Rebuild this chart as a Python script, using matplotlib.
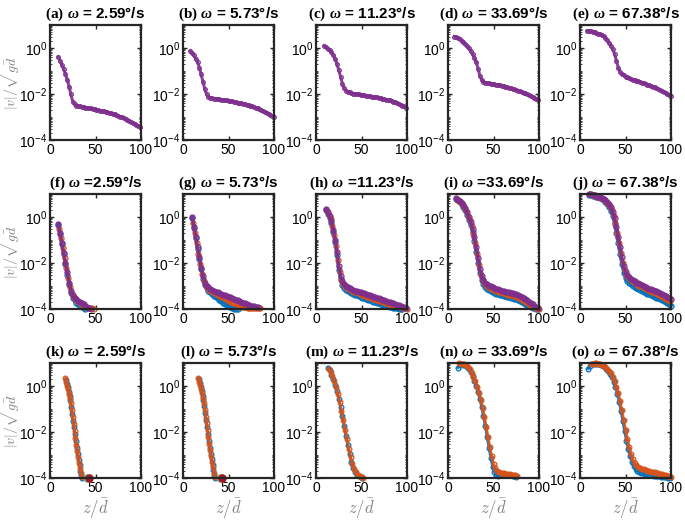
import numpy as np
import matplotlib.pyplot as plt
from matplotlib.ticker import LogLocator, NullFormatter

plt.rcParams['font.family'] = 'Liberation Sans'
plt.rcParams['mathtext.fontset'] = 'custom'
plt.rcParams['mathtext.rm'] = 'Liberation Serif'
plt.rcParams['mathtext.it'] = 'Liberation Serif:italic:bold'
plt.rcParams['mathtext.bf'] = 'Liberation Serif:bold'

BLUE = '#0072BD'
ORANGE = '#D95319'
YELLOW = '#EDB120'
PURPLE = '#7E2F8E'
GREEN = '#77AC30'
CYAN = '#4DBEEE'
RED = '#A2142F'

omegas = ['2.59', '5.73', '11.23', '33.69', '67.38']
tags = list('abcdefghijklmno')
eq_signs = [' = '] * 5 + [' =', ' = ', ' =', ' =', ' = '] + [' = '] * 5

# each series: first z, z step, log10(|v|/sqrt(g d))
# row 1 (single series)
a_pur = (9, 2, [-0.38, -0.55, -0.74, -0.92, -1.13, -1.38, -1.68, -2.02, -2.33, -2.45,
                -2.50, -2.52, -2.54, -2.56, -2.57, -2.59, -2.60, -2.62, -2.63, -2.65,
                -2.67, -2.68, -2.70, -2.72, -2.74, -2.76, -2.78, -2.80, -2.82, -2.84,
                -2.86, -2.89, -2.92, -2.95, -2.98, -3.01, -3.05, -3.08, -3.12, -3.16,
                -3.20, -3.24, -3.29, -3.34, -3.39, -3.44])
b_pur = (8, 2, [-0.12, -0.20, -0.32, -0.47, -0.62, -0.85, -1.15, -1.48, -1.80, -2.02,
                -2.12, -2.16, -2.18, -2.20, -2.21, -2.22, -2.23, -2.24, -2.26, -2.27,
                -2.28, -2.30, -2.31, -2.32, -2.34, -2.35, -2.37, -2.38, -2.40, -2.42,
                -2.44, -2.46, -2.49, -2.51, -2.54, -2.57, -2.60, -2.63, -2.66, -2.70,
                -2.73, -2.77, -2.81, -2.85, -2.90, -2.94, -2.99])
c_pur = (9, 2, [0.10, 0.04, -0.03, -0.10, -0.18, -0.30, -0.47, -0.70, -0.96, -1.25,
                -1.55, -1.76, -1.85, -1.90, -1.93, -1.96, -1.98, -2.00, -2.01, -2.02,
                -2.03, -2.05, -2.06, -2.07, -2.08, -2.10, -2.11, -2.13, -2.14, -2.15,
                -2.17, -2.18, -2.20, -2.22, -2.24, -2.26, -2.28, -2.30, -2.33, -2.36,
                -2.39, -2.42, -2.46, -2.50, -2.54, -2.60])
d_pur = (7, 2, [0.50, 0.46, 0.42, 0.37, 0.32, 0.25, 0.18, 0.10, -0.01, -0.14,
                -0.27, -0.42, -0.60, -0.90, -1.20, -1.38, -1.46, -1.50, -1.52, -1.54,
                -1.55, -1.57, -1.58, -1.60, -1.62, -1.63, -1.65, -1.67, -1.69, -1.71,
                -1.73, -1.75, -1.77, -1.80, -1.82, -1.85, -1.88, -1.91, -1.94, -1.97,
                -2.00, -2.04, -2.08, -2.12, -2.16, -2.20, -2.24])
e_pur = (8, 2, [0.75, 0.74, 0.72, 0.70, 0.68, 0.65, 0.62, 0.60, 0.58, 0.52,
                0.44, 0.34, 0.22, 0.08, -0.05, -0.27, -0.55, -0.85, -1.04, -1.13,
                -1.19, -1.24, -1.28, -1.31, -1.34, -1.37, -1.39, -1.42, -1.45, -1.47,
                -1.50, -1.53, -1.56, -1.59, -1.62, -1.65, -1.68, -1.71, -1.75, -1.78,
                -1.82, -1.86, -1.90, -1.94, -1.99, -2.03, -2.08])

# row 2 (blue, orange, purple)
f_blu = (9, 2, [-0.33, -0.75, -1.18, -1.62, -2.05, -2.50, -2.95, -3.30, -3.50, -3.62,
                -3.72, -3.80, -3.87, -3.93, -3.97, -4.00])
f_ora = (10, 2, [-0.50, -0.92, -1.35, -1.78, -2.20, -2.65, -3.05, -3.35, -3.48, -3.57,
                 -3.65, -3.71, -3.77, -3.82, -3.87, -3.91, -3.94, -3.96, -3.97, -3.98])
f_pur = (9, 2, [-0.29, -0.70, -1.12, -1.55, -1.98, -2.40, -2.85, -3.20, -3.40, -3.50,
                -3.58, -3.64, -3.70, -3.75, -3.80, -3.85, -3.90, -3.95, -3.99])
g_blu = (10, 2, [-0.05, -0.48, -0.93, -1.38, -1.83, -2.28, -2.68, -2.95, -3.10, -3.20,
                 -3.28, -3.35, -3.42, -3.48, -3.54, -3.60, -3.66, -3.72, -3.78, -3.84,
                 -3.89, -3.93, -3.96, -3.98, -3.99, -4.00])
g_ora = (11, 2, [-0.25, -0.70, -1.15, -1.60, -2.05, -2.48, -2.80, -3.00, -3.10, -3.17,
                 -3.23, -3.28, -3.32, -3.36, -3.40, -3.44, -3.48, -3.52, -3.56, -3.60,
                 -3.64, -3.68, -3.72, -3.76, -3.80, -3.84, -3.87, -3.90, -3.92, -3.93,
                 -3.94, -3.94, -3.95, -3.95, -3.95, -3.96, -3.96, -3.97])
g_pur = (10, 2, [0.00, -0.42, -0.87, -1.32, -1.76, -2.20, -2.58, -2.85, -2.98, -3.06,
                 -3.12, -3.17, -3.21, -3.25, -3.28, -3.31, -3.34, -3.37, -3.40, -3.43,
                 -3.46, -3.49, -3.53, -3.56, -3.60, -3.63, -3.67, -3.70, -3.73, -3.76,
                 -3.79, -3.82, -3.85, -3.87, -3.89, -3.90, -3.90])
h_blu = (11, 2, [0.30, 0.15, -0.03, -0.27, -0.65, -1.10, -1.65, -2.30, -2.70, -2.95,
                 -3.08, -3.16, -3.22, -3.27, -3.31, -3.35, -3.38, -3.41, -3.44, -3.47,
                 -3.50, -3.53, -3.56, -3.59, -3.62, -3.65, -3.68, -3.71, -3.73, -3.76,
                 -3.79, -3.81, -3.84, -3.86, -3.88, -3.90, -3.92, -3.94, -3.96, -3.97,
                 -3.98, -3.99, -4.00])
h_ora = (12, 2, [0.25, 0.10, -0.10, -0.40, -0.80, -1.28, -1.85, -2.40, -2.72, -2.90,
                 -3.00, -3.07, -3.13, -3.18, -3.22, -3.25, -3.28, -3.31, -3.34, -3.37,
                 -3.40, -3.43, -3.46, -3.49, -3.52, -3.54, -3.57, -3.60, -3.62, -3.65,
                 -3.67, -3.70, -3.72, -3.75, -3.77, -3.80, -3.82, -3.84, -3.87, -3.89,
                 -3.91, -3.93, -3.95, -3.97, -3.98])
h_pur = (11, 2, [0.34, 0.20, 0.03, -0.18, -0.55, -0.98, -1.50, -2.15, -2.55, -2.80,
                 -2.93, -3.01, -3.06, -3.10, -3.14, -3.17, -3.20, -3.22, -3.25, -3.27,
                 -3.30, -3.32, -3.35, -3.38, -3.40, -3.43, -3.46, -3.49, -3.52, -3.54,
                 -3.57, -3.60, -3.62, -3.65, -3.68, -3.70, -3.73, -3.75, -3.78, -3.81,
                 -3.84, -3.87, -3.90, -3.93, -3.96])
i_blu = (9, 2, [0.78, 0.72, 0.64, 0.55, 0.45, 0.30, 0.10, -0.12, -0.36, -0.65,
                -1.05, -1.50, -2.00, -2.45, -2.75, -2.93, -3.05, -3.13, -3.19, -3.23,
                -3.27, -3.30, -3.33, -3.36, -3.38, -3.41, -3.43, -3.45, -3.47, -3.49,
                -3.51, -3.53, -3.55, -3.58, -3.61, -3.65, -3.69, -3.74, -3.79, -3.84,
                -3.88, -3.92, -3.95, -3.97, -3.99, -4.00])
i_ora = (10, 2, [0.76, 0.70, 0.62, 0.53, 0.42, 0.26, 0.06, -0.15, -0.40, -0.72,
                 -1.12, -1.60, -2.10, -2.50, -2.72, -2.86, -2.96, -3.03, -3.08, -3.12,
                 -3.16, -3.19, -3.22, -3.25, -3.28, -3.30, -3.32, -3.35, -3.37, -3.39,
                 -3.41, -3.43, -3.45, -3.48, -3.51, -3.55, -3.60, -3.65, -3.70, -3.76,
                 -3.82, -3.87, -3.91, -3.95, -3.97, -3.99])
i_pur = (9, 2, [0.81, 0.75, 0.68, 0.60, 0.52, 0.38, 0.20, -0.01, -0.23, -0.50,
                -0.87, -1.30, -1.78, -2.25, -2.55, -2.73, -2.85, -2.93, -2.98, -3.02,
                -3.06, -3.09, -3.12, -3.15, -3.17, -3.20, -3.22, -3.24, -3.26, -3.28,
                -3.30, -3.32, -3.34, -3.36, -3.39, -3.42, -3.46, -3.51, -3.56, -3.62,
                -3.68, -3.74, -3.80, -3.85, -3.90, -3.94])
j_blu = (10, 2, [0.97, 0.95, 0.93, 0.91, 0.88, 0.85, 0.82, 0.78, 0.73, 0.66,
                 0.57, 0.45, 0.28, 0.04, -0.30, -0.70, -1.15, -1.60, -2.05, -2.42,
                 -2.64, -2.77, -2.86, -2.93, -2.99, -3.04, -3.09, -3.13, -3.17, -3.21,
                 -3.25, -3.29, -3.33, -3.36, -3.40, -3.43, -3.47, -3.50, -3.54, -3.58,
                 -3.62, -3.66, -3.70, -3.75, -3.80, -3.85])
j_ora = (11, 2, [0.98, 0.96, 0.94, 0.92, 0.89, 0.86, 0.83, 0.79, 0.74, 0.67,
                 0.58, 0.46, 0.30, 0.06, -0.28, -0.68, -1.12, -1.58, -2.00, -2.32,
                 -2.52, -2.63, -2.71, -2.78, -2.84, -2.89, -2.94, -2.98, -3.02, -3.06,
                 -3.10, -3.14, -3.17, -3.21, -3.24, -3.28, -3.31, -3.35, -3.39, -3.43,
                 -3.47, -3.51, -3.56, -3.61, -3.66])
j_pur = (10, 2, [1.00, 0.98, 0.96, 0.94, 0.92, 0.89, 0.86, 0.83, 0.79, 0.73,
                 0.65, 0.55, 0.42, 0.22, -0.05, -0.42, -0.85, -1.30, -1.75, -2.12,
                 -2.38, -2.53, -2.62, -2.69, -2.75, -2.80, -2.85, -2.89, -2.93, -2.97,
                 -3.01, -3.05, -3.08, -3.11, -3.14, -3.17, -3.20, -3.23, -3.27, -3.30,
                 -3.34, -3.38, -3.42, -3.47, -3.52, -3.57])

# row 3 (blue, orange)
k_blu = (17.5, 1, [0.28, 0.10, -0.06, -0.24, -0.43, -0.63, -0.90, -1.20, -1.50, -1.80,
                   -2.10, -2.40, -2.70, -2.95, -3.20, -3.45, -3.68, -3.88, -3.99])
k_ora = (17, 1, [0.33, 0.18, 0.02, -0.15, -0.33, -0.52, -0.75, -1.05, -1.35, -1.65,
                 -1.95, -2.25, -2.55, -2.82, -3.08, -3.33, -3.55, -3.78, -3.97])
l_blu = (17.5, 1, [0.30, 0.12, -0.05, -0.23, -0.42, -0.62, -0.88, -1.18, -1.48, -1.78,
                   -2.08, -2.38, -2.68, -2.94, -3.19, -3.44, -3.67, -3.87, -3.99])
l_ora = (17, 1, [0.34, 0.19, 0.03, -0.14, -0.32, -0.51, -0.74, -1.03, -1.33, -1.63,
                 -1.93, -2.23, -2.53, -2.80, -3.06, -3.31, -3.54, -3.77, -3.96])
m_blu = (13, 2, [0.80, 0.68, 0.50, 0.30, 0.06, -0.22, -0.55, -0.92, -1.32, -1.74,
                 -2.16, -2.58, -2.96, -3.30, -3.56, -3.74, -3.86, -3.93, -3.97, -3.99])
m_ora = (14, 2, [0.75, 0.60, 0.42, 0.20, -0.05, -0.35, -0.70, -1.08, -1.48, -1.90,
                 -2.32, -2.72, -3.08, -3.38, -3.60, -3.76, -3.86, -3.93, -3.97, -3.99])
n_blu = (11, 2, [0.80, 0.92, 0.95, 0.93, 0.90, 0.84, 0.74, 0.60, 0.43, 0.23,
                 0.00, -0.27, -0.57, -0.92, -1.32, -1.76, -2.22, -2.68, -3.12, -3.50,
                 -3.75, -3.88, -3.90, -3.88, -3.86, -3.85, -3.85, -3.86, -3.87, -3.88,
                 -3.90, -3.93, -3.96])
n_ora = (12, 2, [0.98, 0.97, 0.96, 0.94, 0.91, 0.83, 0.72, 0.57, 0.40, 0.20,
                 -0.03, -0.30, -0.60, -0.95, -1.35, -1.78, -2.22, -2.65, -3.05, -3.38,
                 -3.58, -3.68, -3.74, -3.77, -3.79, -3.80, -3.82, -3.83, -3.84, -3.86,
                 -3.87, -3.89, -3.90])
o_blu = (9, 2, [0.75, 0.88, 0.94, 0.96, 0.97, 0.96, 0.94, 0.91, 0.87, 0.82,
                0.75, 0.66, 0.54, 0.38, 0.18, -0.06, -0.34, -0.68, -1.08, -1.52,
                -1.96, -2.38, -2.75, -3.05, -3.30, -3.48, -3.60, -3.68, -3.73, -3.77,
                -3.80, -3.82, -3.84, -3.86, -3.87, -3.89, -3.90, -3.91, -3.92, -3.93,
                -3.94, -3.95, -3.96, -3.97, -3.98, -3.99])
o_ora = (12, 2, [0.95, 0.97, 0.98, 0.98, 0.97, 0.95, 0.92, 0.88, 0.83, 0.76,
                 0.67, 0.55, 0.39, 0.20, -0.03, -0.30, -0.65, -1.05, -1.48, -1.90,
                 -2.30, -2.65, -2.95, -3.18, -3.35, -3.45, -3.52, -3.57, -3.60, -3.63,
                 -3.66, -3.68, -3.70, -3.72, -3.74, -3.76, -3.78, -3.80, -3.82, -3.84,
                 -3.86, -3.88, -3.90, -3.92, -3.94])
# small pile of points sitting on the floor of (k) and (l)
pile_z = [41, 42, 42.5, 43]
pile_v = [-3.98, -3.98, -3.99, -3.99]
pile_c = [CYAN, GREEN, YELLOW, RED]

panels = [
    [(a_pur, PURPLE)], [(b_pur, PURPLE)], [(c_pur, PURPLE)], [(d_pur, PURPLE)], [(e_pur, PURPLE)],
    [(f_blu, BLUE), (f_ora, ORANGE), (f_pur, PURPLE)],
    [(g_blu, BLUE), (g_ora, ORANGE), (g_pur, PURPLE)],
    [(h_blu, BLUE), (h_ora, ORANGE), (h_pur, PURPLE)],
    [(i_blu, BLUE), (i_ora, ORANGE), (i_pur, PURPLE)],
    [(j_blu, BLUE), (j_ora, ORANGE), (j_pur, PURPLE)],
    [(k_blu, BLUE), (k_ora, ORANGE)],
    [(l_blu, BLUE), (l_ora, ORANGE)],
    [(m_blu, BLUE), (m_ora, ORANGE)],
    [(n_blu, BLUE), (n_ora, ORANGE)],
    [(o_blu, BLUE), (o_ora, ORANGE)],
]
marker_size = [2.6, 3.6, 3.4]
line_width = [2.2, 2.4, 2.0]

W, H = 685, 521
lefts = [50, 183, 316, 448, 580]
tops = [25, 194, 363]
aw, ah = 91, 115

fig = plt.figure(figsize=(W / 100, H / 100), dpi=100)

for i, series in enumerate(panels):
    r, c = divmod(i, 5)
    ax = fig.add_axes([lefts[c] / W, 1 - (tops[r] + ah) / H, aw / W, ah / H])
    for (z0, dz, lv), col in series:
        z = z0 + dz * np.arange(len(lv))
        v = 10.0 ** np.array(lv)
        ax.plot(z, v, '-', color=col, lw=line_width[r], alpha=0.9, clip_on=False)
        ax.plot(z, v, 'o', mfc='none', mec=col, ms=marker_size[r], mew=0.9, clip_on=False)
    if r == 2 and c < 2:
        for zz, vv, cc in zip(pile_z, pile_v, pile_c):
            ax.plot(zz, 10.0 ** vv, 'o', mfc=cc if cc == RED else 'none', mec=cc,
                    ms=5, mew=1.0, clip_on=False)

    ax.set_yscale('log')
    ax.set_ylim(1e-4, 10)
    ax.set_xlim(0, 100)
    ax.set_xticks([0, 50, 100])
    ax.set_yticks([1e-4, 1e-2, 1e0])
    ax.yaxis.set_minor_locator(LogLocator(base=10, subs=np.arange(1, 10), numticks=50))
    ax.yaxis.set_minor_formatter(NullFormatter())
    ax.tick_params(which='both', direction='in', top=True, right=True,
                   labelsize=10, color='#262626', pad=2)
    ax.tick_params(which='major', length=3, width=1)
    ax.tick_params(which='minor', length=1.5, width=0.6)
    for s in ax.spines.values():
        s.set_linewidth(1.6)
        s.set_color('#262626')

    ax.set_title(r'$\mathbf{(' + tags[i] + r')}$ $\omega$' + eq_signs[i] + omegas[c] + '°/s',
                 fontsize=11, fontweight='bold', pad=5, math_fontfamily='custom')
    if c == 0:
        ax.set_ylabel(r'$|v|/\sqrt{g\bar{d}}$', fontsize=10, color='#808080',
                      math_fontfamily='cm')
        ax.yaxis.set_label_coords(-0.31, 0.5)
    if r == 2:
        ax.set_xlabel(r'$z/\bar{d}$', fontsize=12, color='#808080',
                      math_fontfamily='cm', labelpad=1)

fig.savefig('out.png', dpi=100)
